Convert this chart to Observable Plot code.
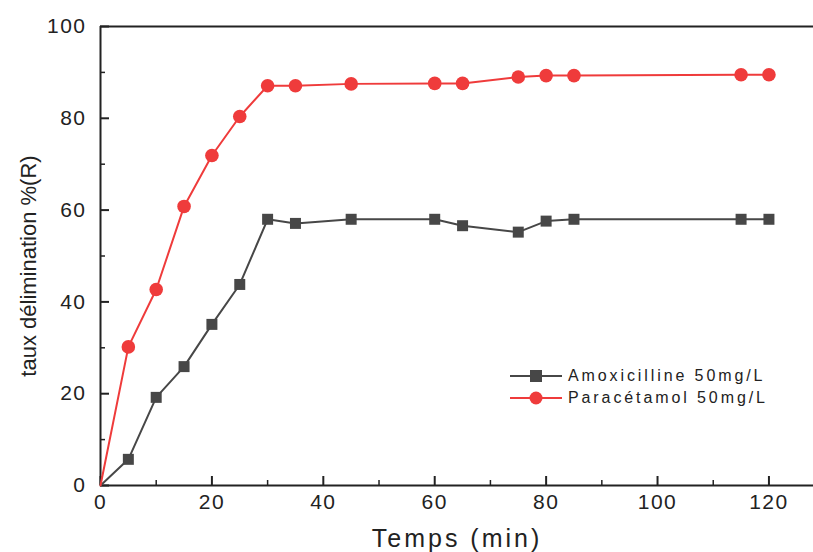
<!DOCTYPE html>
<html><head><meta charset="utf-8">
<script src="https://cdn.jsdelivr.net/npm/d3@7"></script>
<script src="https://cdn.jsdelivr.net/npm/@observablehq/plot@0.6"></script>
<style>
body{margin:0;background:#fff;font-family:"Liberation Sans",Arial,sans-serif;}
#wrap{position:relative;width:813px;height:552px;}
.leg{position:absolute;left:510px;font-size:16px;color:#222;letter-spacing:2.9px;display:flex;align-items:center;height:20px;}
.leg svg{margin-right:6px;}
</style></head>
<body><div id="wrap"></div>
<script>
const times = [0,5,10,15,20,25,30,35,45,60,65,75,80,85,115,120];
const amoxicilline = [0,5.7,19.2,25.9,35.1,43.8,58.0,57.1,58.0,58.0,56.6,55.2,57.6,58.0,58.0,58.0];
const paracetamol = [0,30.2,42.7,60.8,71.9,80.4,87.1,87.1,87.5,87.6,87.6,89.0,89.3,89.3,89.5,89.5];
const seriesNames = ["Amoxicilline 50mg/L","Paracétamol 50mg/L"];
const xTicks = [0,20,40,60,80,100,120];
const yTicks = [0,20,40,60,80,100];
const xMinor = [10,30,50,70,90,110];
const yMinor = [10,30,50,70,90];
const GRAY = "#474747", RED = "#ef3b3b";

const W = 813, H = 552, ML = 100, MR = 0, MT = 26, MB = 67;
const PW = W - ML - MR, PH = H - MT - MB;

const amox = times.map((t,i)=>({t, v: amoxicilline[i]}));
const para = times.map((t,i)=>({t, v: paracetamol[i]}));

const plot = Plot.plot({
  width: W, height: H,
  marginLeft: ML, marginRight: MR, marginTop: MT, marginBottom: MB,
  style: {fontFamily: '"Liberation Sans", Arial, sans-serif', background: "#fff"},
  x: {domain: [0, 128]},
  y: {domain: [0, 100]},
  marks: [
    Plot.ruleY([100], {stroke: "#222", strokeWidth: 2}),
    Plot.ruleY([0], {stroke: "#222", strokeWidth: 2}),
    Plot.ruleX([0], {stroke: "#222", strokeWidth: 2}),
    // inward major/minor ticks
    Plot.tickX(xTicks, {x: d => d, insetTop: PH - 9, stroke: "#222", strokeWidth: 2}),
    Plot.tickX(xMinor, {x: d => d, insetTop: PH - 5, stroke: "#222", strokeWidth: 1.5}),
    Plot.tickY(yTicks, {y: d => d, insetRight: PW - 9, stroke: "#222", strokeWidth: 2}),
    Plot.tickY(yMinor, {y: d => d, insetRight: PW - 5, stroke: "#222", strokeWidth: 1.5}),
    Plot.axisX({ticks: xTicks, tickSize: 0, tickPadding: 9, fontSize: 21, fill: "#222", label: null, tickFormat: d => d}),
    Plot.axisY({ticks: yTicks, tickSize: 0, tickPadding: 14, fontSize: 21, fill: "#222", label: null, tickFormat: d => d}),
    Plot.line(amox, {x: "t", y: "v", stroke: GRAY, strokeWidth: 2}),
    Plot.line(para, {x: "t", y: "v", stroke: RED, strokeWidth: 2}),
    Plot.dot(amox.slice(1), {x: "t", y: "v", symbol: "square", r: 6.2, fill: GRAY, stroke: "none"}),
    Plot.dot(para.slice(1), {x: "t", y: "v", symbol: "circle", r: 6.8, fill: RED, stroke: "none"}),
    Plot.text(["Temps (min)"], {frameAnchor: "bottom", dy: 61, fontSize: 25, fill: "#222", text: d => d}),
    Plot.text(["taux délimination %(R)"], {frameAnchor: "left", textAnchor: "middle", dx: -72, dy: 10, rotate: -90, fontSize: 22, fill: "#222", text: d => d})
  ]
});
const wrap = document.getElementById("wrap");
wrap.appendChild(plot);
const svg = d3.select(plot);
svg.selectAll("text").filter(function(){ return this.textContent === "Temps (min)"; }).style("letter-spacing", "3px");
svg.selectAll("g[aria-label='x-axis tick label'] text, g[aria-label='y-axis tick label'] text").style("letter-spacing", "1.5px");

[[seriesNames[0], GRAY, "square", 366],[seriesNames[1], RED, "circle", 388]].forEach(([name, col, sym, top]) => {
  const d = document.createElement("div");
  d.className = "leg";
  d.style.top = top + "px";
  const mk = sym === "square"
    ? `<rect x="20" y="4" width="12" height="12" fill="${col}"/>`
    : `<circle cx="26" cy="10" r="6.5" fill="${col}"/>`;
  d.innerHTML = `<svg width="52" height="20"><line x1="0" x2="52" y1="10" y2="10" stroke="${col}" stroke-width="2"/>${mk}</svg><span>${name}</span>`;
  wrap.appendChild(d);
});
</script>
</body></html>
